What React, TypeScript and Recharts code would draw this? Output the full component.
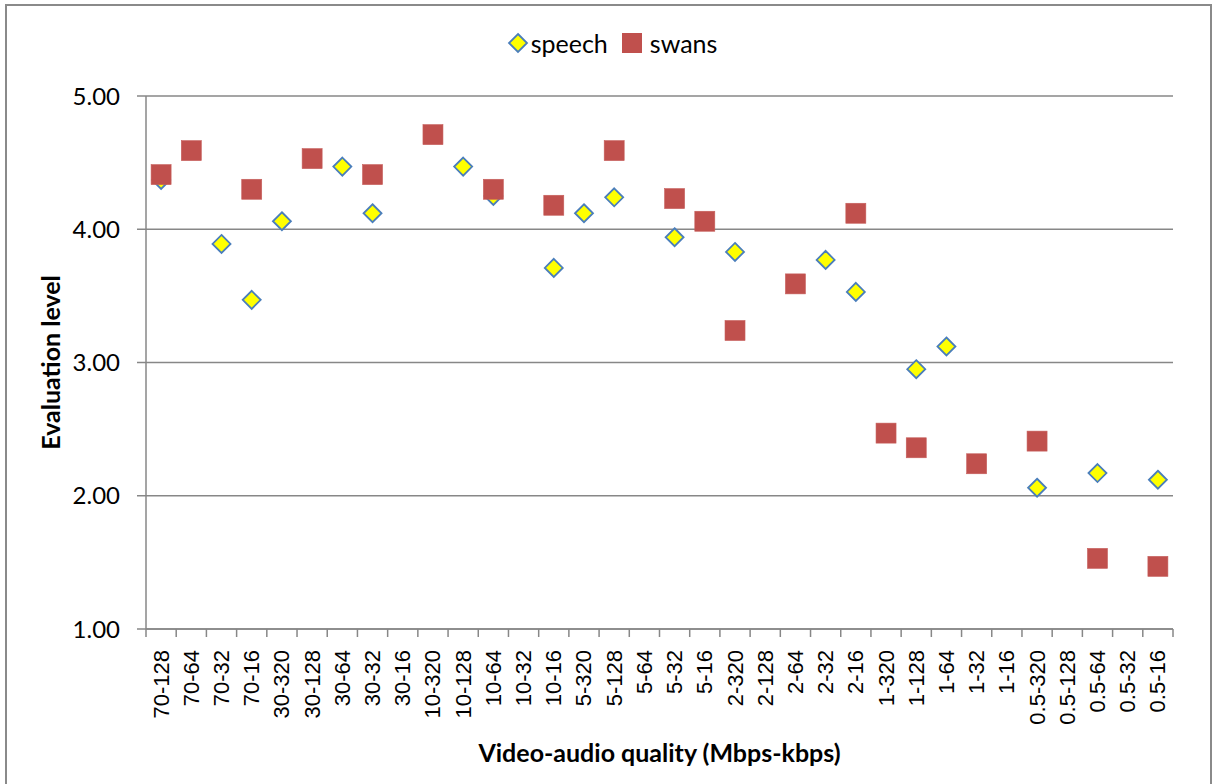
import React from 'react';
import { ComposedChart, Line, XAxis, YAxis, CartesianGrid, Legend } from 'recharts';

const categories = [
  '70-128', '70-64', '70-32', '70-16',
  '30-320', '30-128', '30-64', '30-32', '30-16',
  '10-320', '10-128', '10-64', '10-32', '10-16',
  '5-320', '5-128', '5-64', '5-32', '5-16',
  '2-320', '2-128', '2-64', '2-32', '2-16',
  '1-320', '1-128', '1-64', '1-32', '1-16',
  '0.5-320', '0.5-128', '0.5-64', '0.5-32', '0.5-16',
];

const speech: (number | null)[] = [
  4.37, null, 3.89, 3.47,
  4.06, null, 4.47, 4.12, null,
  null, 4.47, 4.25, null, 3.71,
  4.12, 4.24, null, 3.94, null,
  3.83, null, null, 3.77, 3.53,
  null, 2.95, 3.12, null, null,
  2.06, null, 2.17, null, 2.12,
];

const swans: (number | null)[] = [
  4.41, 4.59, null, 4.30,
  null, 4.53, null, 4.41, null,
  4.71, null, 4.30, null, 4.18,
  null, 4.59, null, 4.23, 4.06,
  3.24, null, 3.59, null, 4.12,
  2.47, 2.36, null, 2.24, null,
  2.41, null, 1.53, null, 1.47,
];

const yTicks = [1, 2, 3, 4, 5];

const data = categories.map((c, i) => ({ x: i + 0.5, cat: c, speech: speech[i], swans: swans[i] }));
const xTicks: number[] = [];
for (let i = 0; i <= categories.length * 2; i++) xTicks.push(i / 2);

const GRAY = '#878787';
const CAL = 'Lato, "Open Sans", sans-serif';

const Diamond = (props: any) => {
  const { cx, cy } = props;
  if (cx == null || cy == null || isNaN(cy)) return null;
  const r = 9;
  return (
    <polygon
      key={props.key}
      points={`${cx},${cy - r} ${cx + r},${cy} ${cx},${cy + r} ${cx - r},${cy}`}
      fill="#ffff00"
      stroke="#4a7ebb"
      strokeWidth={1.8}
    />
  );
};

const Square = (props: any) => {
  const { cx, cy } = props;
  if (cx == null || cy == null || isNaN(cy)) return null;
  const s = 20;
  return <rect key={props.key} x={cx - s / 2} y={cy - s / 2} width={s} height={s} fill="#c0504d" stroke="#c65e5b" strokeWidth={0.6} />;
};

const XTick = (props: any) => {
  const { x, y, payload } = props;
  const v = payload.value as number;
  if (Number.isInteger(v)) {
    return <line x1={x} x2={x} y1={y} y2={y + 8} stroke={GRAY} strokeWidth={1.5} />;
  }
  const label = categories[Math.floor(v)];
  return (
    <text
      transform={`translate(${x},${y + 21}) rotate(-90)`}
      textAnchor="end"
      dominantBaseline="central"
      fontFamily='"Liberation Sans", Arial, sans-serif'
      fontSize={22}
      fill="#000"
    >
      {label}
    </text>
  );
};

const LegendContent = () => (
  <div style={{ display: 'flex', justifyContent: 'center', alignItems: 'center', fontFamily: CAL, fontSize: 25, color: '#000', paddingLeft: 8 }}>
    <svg width={22} height={22} style={{ marginRight: 2 }}>
      <polygon points="11,2 20,11 11,20 2,11" fill="#ffff00" stroke="#4a7ebb" strokeWidth={1.8} />
    </svg>
    <span style={{ marginRight: 13 }}>speech</span>
    <svg width={22} height={22} style={{ marginRight: 7 }}>
      <rect x={1} y={1} width={20} height={20} fill="#c0504d" />
    </svg>
    <span>swans</span>
  </div>
);

export default function App() {
  return (
    <div style={{ position: 'absolute', left: 0, top: 0, width: 1216, height: 784, overflow: 'hidden', background: '#fff' }}>
      <div style={{ position: 'absolute', left: 5, top: 4, width: 1203, height: 820, border: '2px solid #8a8a8a' }} />
      <ComposedChart width={1216} height={784} data={data} margin={{ top: 96, right: 43, left: 0, bottom: 0 }}>
        <CartesianGrid horizontal vertical={false} stroke={GRAY} strokeWidth={1.5} />
        <XAxis
          dataKey="x"
          type="number"
          domain={[0, categories.length]}
          ticks={xTicks}
          interval={0}
          tickLine={false}
          tickSize={0}
          tickMargin={0}
          axisLine={{ stroke: GRAY, strokeWidth: 1.5 }}
          tick={<XTick />}
          height={155}
          label={{
            content: (p: any) => {
              const vb = p.viewBox;
              return (
                <text x={vb.x + vb.width / 2} y={vb.y + 133} textAnchor="middle" fontFamily={CAL} fontWeight="bold" fontSize={25} fill="#000">
                  Video-audio quality (Mbps-kbps)
                </text>
              );
            },
          }}
        />
        <YAxis
          type="number"
          domain={[1, 5]}
          ticks={yTicks}
          interval={0}
          width={146}
          tickSize={9}
          tickMargin={17}
          tickFormatter={(v: number) => v.toFixed(2)}
          tick={{ fontFamily: CAL, fontSize: 24, fill: '#000' }}
          axisLine={{ stroke: GRAY, strokeWidth: 1.5 }}
          tickLine={{ stroke: GRAY, strokeWidth: 1.5 }}
          label={{
            content: (p: any) => {
              const vb = p.viewBox;
              const cy = vb.y + vb.height / 2;
              return (
                <text x={50} y={cy} transform={`rotate(-90, 50, ${cy})`} textAnchor="middle" dominantBaseline="central" fontFamily={CAL} fontWeight="bold" fontSize={25} fill="#000">
                  Evaluation level
                </text>
              );
            },
          }}
        />
        <Legend verticalAlign="middle" layout="horizontal" wrapperStyle={{ top: 28, left: 0, width: 1216 }} content={<LegendContent />} />
        <Line dataKey="speech" stroke="none" strokeWidth={0} dot={<Diamond />} activeDot={false} isAnimationActive={false} connectNulls={false} />
        <Line dataKey="swans" stroke="none" strokeWidth={0} dot={<Square />} activeDot={false} isAnimationActive={false} connectNulls={false} />
      </ComposedChart>
    </div>
  );
}
